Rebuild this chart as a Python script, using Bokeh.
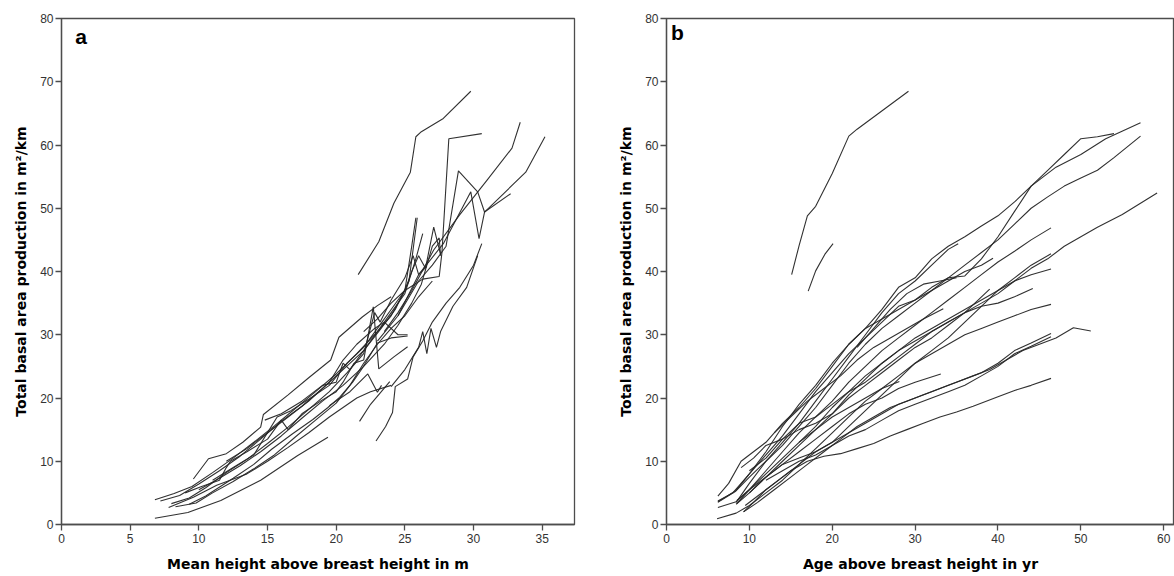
from bokeh.plotting import figure
from bokeh.layouts import row
from bokeh.models import Range1d, FixedTicker, Label, ColumnDataSource
from bokeh.embed import file_html
from bokeh.resources import INLINE

# ---------------- Panel a: mean height (m) vs total basal area production ----------------
a_lines = [
    [[21.6,39.5],[23.1,44.7],[24.2,50.8],[25.4,55.7],[25.8,61.3],[26.2,62.1],[27.8,64.2],[29.8,68.5]],
    [[22.0,30.5],[23.0,32.5],[24.0,35.0],[25.0,37.0],[26.3,38.8],[27.5,39.2],[27.7,43.0],[28.2,61.0],[30.6,61.8]],
    [[23.5,30.5],[24.5,33.5],[25.5,37.0],[27.1,43.4],[29.0,49.0],[31.0,54.5],[32.8,59.5],[33.4,63.6]],
    [[23.0,29.0],[24.5,33.0],[26.0,38.5],[27.0,41.0],[28.0,44.0],[28.9,55.9],[30.3,52.6],[30.8,49.4],[32.7,52.3]],
    [[24.5,33.0],[26.0,39.5],[27.8,44.4],[29.8,52.6],[30.4,45.2],[30.8,49.4],[33.8,55.7],[35.2,61.3]],
    [[22.9,13.2],[23.6,15.5],[24.1,17.7],[24.3,21.8],[25.2,23.0],[25.6,26.5],[26.3,29.0],[27.0,32.0],[28.0,35.0],[29.0,37.5],[30.0,41.0],[30.6,44.4]],
    [[24.0,21.8],[25.0,24.5],[26.0,28.0],[26.3,30.5],[26.6,27.0],[26.9,31.0],[27.3,28.0],[27.6,30.5],[28.5,34.5],[29.5,37.5],[30.3,42.5]],
    [[21.7,16.3],[22.5,19.0],[23.9,22.6]],
    [[19.5,18.8],[21.0,21.0],[22.3,23.8],[23.0,20.9],[23.3,22.0]],
    [[6.8,3.9],[8.2,4.9],[9.5,6.0],[11.0,8.2],[12.5,10.5],[14.0,13.0],[15.5,15.6],[17.0,18.3],[18.5,21.0],[20.0,23.8],[21.5,27.0],[23.0,30.5],[24.0,33.5],[25.0,36.5],[25.8,42.0],[26.3,46.0]],
    [[7.2,3.7],[8.6,4.6],[10.0,6.4],[11.5,8.5],[13.0,10.8],[14.5,13.5],[16.0,16.3],[17.5,18.7],[19.0,21.5],[20.5,24.5],[22.0,27.5],[23.2,30.8],[24.3,34.0],[25.3,38.5],[25.9,48.5]],
    [[9.6,7.2],[10.7,10.4],[12.0,11.2],[13.2,13.0],[14.5,15.4],[14.7,17.4],[16.5,20.5],[18.0,23.2],[19.6,26.0],[20.2,29.6],[21.9,32.8],[23.0,34.6],[24.0,36.0]],
    [[8.0,3.3],[9.3,4.2],[10.5,5.8],[12.0,8.2],[13.5,10.3],[15.0,12.8],[16.5,15.4],[18.0,18.2],[19.5,21.0],[20.8,24.0],[22.0,27.0],[22.8,33.5],[23.2,32.0],[24.0,35.5],[25.0,39.0],[25.6,42.5],[26.0,39.5],[26.6,40.8]],
    [[8.3,2.8],[9.8,3.4],[11.0,5.0],[12.5,6.8],[14.0,8.8],[15.5,11.0],[17.0,13.8],[18.5,16.5],[20.0,19.2],[21.0,22.0],[22.0,25.5],[23.0,28.5],[24.0,31.0],[25.0,33.0],[26.0,36.0],[27.0,38.5]],
    [[9.3,3.2],[10.5,4.5],[12.5,7.3],[14.0,9.5],[15.3,11.9],[16.8,14.3],[18.3,16.6],[19.4,18.5],[20.2,20.0],[21.2,22.5],[21.9,24.7],[23.0,28.7],[24.0,29.5],[25.2,29.8]],
    [[9.0,5.0],[10.2,6.0],[11.5,7.0],[12.0,9.0],[12.3,10.0],[13.5,11.5],[15.0,13.5],[16.0,16.5],[16.5,15.0],[17.5,17.5],[19.0,19.7],[20.0,21.0],[20.5,22.5],[21.3,25.5],[22.0,26.0],[22.7,34.4],[23.1,24.6],[24.2,26.5],[25.2,28.1]],
    [[10.0,5.5],[11.5,7.3],[13.0,9.3],[14.5,11.5],[16.0,14.0],[17.5,16.8],[19.0,19.5],[20.5,22.0],[22.0,25.0],[23.5,28.5],[24.5,31.5],[25.5,35.0],[26.2,38.0],[27.0,44.0],[27.5,45.3],[27.6,42.5]],
    [[14.8,16.5],[16.0,17.5],[17.5,19.5],[19.0,22.0],[20.0,22.5],[20.5,25.5],[21.0,24.5],[22.0,27.5],[23.0,30.5],[24.0,33.0],[25.0,37.0],[25.5,40.0],[26.0,42.5],[26.5,40.5],[27.1,47.0],[27.6,42.7]],
    [[6.8,1.0],[9.2,1.9],[11.6,3.8],[14.5,7.0],[17.2,10.9],[19.4,13.8]],
    [[7.8,2.7],[9.6,4.3],[11.3,6.2],[13.5,8.0],[15.0,10.0],[16.5,12.2],[18.0,14.5],[19.5,17.0],[20.5,18.5],[21.5,20.0],[22.5,21.0],[24.0,22.0]],
    [[11.0,7.0],[12.5,9.0],[14.0,11.0],[15.7,17.0],[16.7,18.0],[18.0,19.8],[19.5,22.0],[20.8,25.5],[22.0,28.0],[23.0,31.0],[24.0,34.0],[25.0,37.0],[25.5,44.0],[25.8,48.5]],
    [[12.0,10.0],[13.5,12.0],[15.0,14.5],[16.5,17.0],[18.0,19.5],[19.5,22.5],[20.5,26.0],[21.5,28.5],[22.8,31.0],[23.5,32.0],[24.5,30.0],[25.2,30.0]],
]

# ---------------- Panel b: age (yr) vs total basal area production ----------------
b_lines = [
    [[15.1,39.5],[16.0,44.1],[17.0,48.8],[18.0,50.3],[20.0,55.5],[22.0,61.4],[23.0,62.5],[29.2,68.5]],
    [[17.1,36.9],[18.0,40.1],[19.1,42.7],[20.1,44.4]],
    [[6.2,3.6],[8.4,5.4],[10.0,8.0],[12.0,11.0],[14.0,14.0],[16.0,17.5],[18.0,21.0],[20.0,24.0],[22.0,27.0],[24.0,29.5],[26.0,32.0],[28.0,34.5],[30.0,35.5],[32.0,37.5],[34.0,39.0],[36.0,39.3],[38.0,42.0],[40.0,45.5],[42.0,49.5],[44.0,53.5],[47.0,56.5],[50.0,58.5],[53.0,61.0],[57.2,63.5]],
    [[6.2,4.5],[7.5,6.5],[9.0,10.0],[10.5,11.5],[12.0,13.0],[14.0,16.0],[16.0,18.5],[18.0,21.5],[20.0,25.0],[22.0,28.5],[24.0,31.0],[26.0,34.0],[28.0,37.5],[30.0,39.0],[32.0,42.0],[34.0,44.0],[36.0,45.5],[38.0,47.2],[40.0,48.8],[42.0,51.0],[44.0,53.5],[46.0,56.0],[48.0,58.5],[50.0,61.0],[52.0,61.3],[54.0,61.8]],
    [[6.2,3.5],[8.3,5.2],[10.0,7.5],[12.0,10.0],[14.0,12.5],[16.0,15.5],[18.0,18.5],[20.0,22.0],[22.0,25.5],[24.0,28.5],[26.0,31.0],[28.0,33.0],[30.0,35.0],[32.0,37.0],[34.0,39.0],[36.0,41.0],[38.0,43.0],[40.0,45.0],[42.0,47.5],[44.0,50.0],[46.0,51.8],[48.0,53.5],[50.0,54.8],[52.0,56.0],[54.0,58.0],[57.2,61.4]],
    [[6.2,2.7],[8.4,3.6],[10.0,5.5],[12.0,8.0],[14.0,10.5],[16.0,13.0],[18.0,15.5],[20.0,18.5],[22.0,21.0],[24.0,23.5],[26.0,25.5],[28.0,27.5],[30.0,29.0],[32.0,30.5],[34.0,32.0],[36.0,33.5],[38.0,35.0],[40.0,36.5],[42.0,38.5],[44.0,40.5],[46.0,42.0],[48.0,44.0],[50.0,45.5],[52.0,47.0],[55.0,49.0],[59.2,52.4]],
    [[8.5,3.3],[10.0,5.5],[12.0,8.5],[14.0,11.5],[16.0,14.5],[18.0,17.0],[20.0,19.5],[22.0,22.5],[24.0,25.0],[26.0,27.5],[28.0,29.5],[30.0,31.5],[32.0,33.5],[34.0,35.5],[36.0,37.5],[38.0,39.5],[40.0,41.5],[42.0,43.2],[44.0,45.0],[46.4,46.9]],
    [[9.3,2.0],[10.5,3.5],[12.0,5.5],[14.0,7.5],[16.0,9.5],[18.0,11.5],[20.0,13.0],[22.0,15.5],[24.0,18.0],[26.0,20.5],[28.0,23.0],[30.0,25.5],[32.0,27.5],[34.0,29.5],[36.0,32.0],[38.0,34.5],[40.0,37.0],[42.0,39.0],[44.0,41.0],[46.4,42.8]],
    [[8.4,3.2],[10.0,5.0],[12.0,7.5],[14.0,10.0],[16.0,12.5],[18.0,15.0],[20.0,17.5],[22.0,20.5],[24.0,23.0],[26.0,25.5],[28.0,27.5],[30.0,29.5],[32.0,31.0],[34.0,32.5],[36.0,34.0],[38.0,35.5],[40.0,37.0],[42.0,38.5],[44.0,39.5],[46.4,40.4]],
    [[10.0,8.5],[12.0,10.5],[14.0,13.5],[16.0,16.0],[18.0,17.0],[20.0,19.0],[22.0,21.0],[24.0,22.5],[26.0,24.5],[28.0,26.5],[30.0,28.5],[32.0,30.5],[34.0,32.0],[36.0,33.5],[38.0,34.5],[40.0,35.0],[42.0,36.0],[44.2,37.3]],
    [[6.1,0.9],[8.4,1.8],[10.0,3.0],[12.0,5.0],[14.0,7.0],[16.0,9.5],[18.0,12.0],[20.0,14.5],[22.0,17.0],[24.0,19.5],[26.0,21.5],[28.0,23.5],[30.0,25.5],[32.0,27.0],[34.0,28.5],[36.0,30.0],[38.0,31.0],[40.0,32.0],[42.0,33.0],[44.0,34.0],[46.4,34.8]],
    [[8.5,3.8],[10.0,5.5],[12.0,7.5],[14.0,9.5],[16.0,10.5],[18.0,11.5],[20.0,13.0],[22.0,14.5],[24.0,16.0],[26.0,17.5],[28.0,19.0],[30.0,20.0],[32.0,21.0],[34.0,22.0],[36.0,23.0],[38.0,24.0],[40.0,25.5],[42.0,27.5],[44.0,28.7],[46.4,30.2]],
    [[12.0,7.0],[14.0,8.5],[16.0,10.0],[18.0,11.0],[20.0,12.5],[22.0,14.0],[24.0,15.0],[26.0,16.5],[28.0,18.0],[30.0,19.0],[32.0,20.0],[34.0,21.0],[36.0,22.0],[38.0,23.5],[40.0,25.0],[42.0,27.0],[44.0,28.2],[46.4,29.7]],
    [[9.5,3.0],[11.0,4.5],[13.0,6.5],[15.0,8.5],[17.0,10.0],[19.0,10.8],[21.0,11.2],[23.0,12.0],[25.0,12.8],[27.0,14.0],[29.0,15.0],[31.0,16.0],[33.0,17.0],[35.0,17.8],[37.0,18.7],[40.0,20.2],[42.0,21.2],[44.0,22.0],[46.4,23.1]],
    [[9.3,2.0],[11.0,3.5],[13.0,5.5],[15.0,7.5],[17.0,9.5],[19.0,11.5],[21.0,13.5],[23.0,15.5],[25.0,17.0],[27.0,18.5],[29.0,19.5],[31.0,20.5],[33.0,21.5],[35.0,22.5],[37.0,23.5],[39.0,24.5],[41.0,26.0],[43.0,27.5],[45.0,28.5],[47.0,29.5],[49.1,31.1],[51.2,30.6]],
    [[6.2,3.7],[8.0,5.0],[10.0,8.0],[12.0,11.5],[14.0,15.5],[16.0,19.0],[18.0,22.0],[20.0,25.5],[22.0,28.5],[24.0,31.0],[26.0,32.5],[28.0,34.0],[30.0,35.5],[32.0,37.0],[34.0,38.5],[36.0,40.0],[38.0,41.0],[39.4,42.1]],
    [[8.4,3.5],[10.0,6.5],[12.0,10.0],[14.0,13.0],[16.0,16.0],[18.0,19.5],[20.0,23.0],[22.0,26.5],[24.0,30.0],[26.0,33.5],[28.0,36.5],[30.0,38.5],[32.0,41.0],[34.0,43.5],[35.2,44.4]],
    [[13.0,14.5],[15.0,17.0],[17.0,19.5],[19.0,21.5],[21.0,23.5],[23.0,26.0],[25.0,28.0],[27.0,29.5],[29.0,31.0],[31.0,32.5],[33.4,34.1]],
    [[10.0,5.0],[12.0,7.5],[14.0,9.5],[16.0,11.5],[18.0,13.5],[20.0,15.5],[22.0,17.5],[24.0,19.0],[26.0,20.0],[28.0,21.5],[30.0,22.5],[33.1,23.8]],
    [[16.0,13.0],[18.0,15.0],[20.0,17.0],[22.0,18.5],[24.0,20.0],[26.0,21.5],[28.1,22.6]],
    [[23.0,28.0],[25.0,31.0],[27.0,34.0],[29.0,36.5],[31.0,38.0],[33.0,38.5],[35.0,39.0]],
    [[9.0,9.0],[10.5,10.5],[12.0,12.5],[14.0,13.5],[16.0,15.0],[18.0,16.0],[20.0,17.5],[22.0,20.0],[24.0,22.0],[26.0,24.0],[28.0,26.0],[30.0,28.0],[32.0,29.5],[34.0,31.5],[36.0,33.5],[39.0,37.2]],
]

x_ticks_a = [0, 5, 10, 15, 20, 25, 30, 35]
x_ticks_b = [0, 10, 20, 30, 40, 50, 60]
y_ticks = [0, 10, 20, 30, 40, 50, 60, 70, 80]

x_label_a = "Mean height above breast height in m"
x_label_b = "Age above breast height in yr"
y_label = "Total basal area production in m²/km"

LINE = "#262626"
AXIS = "#4d4d4d"


def make_panel(lines, xmax, ticks, xlabel, tag, tag_x, tag_y, border_left, frame_w, border_right):
    p = figure(width=border_left + frame_w + border_right, height=576,
               x_range=Range1d(0, xmax), y_range=Range1d(0, 80),
               output_backend="svg", toolbar_location=None,
               min_border_left=border_left, min_border_right=border_right,
               min_border_top=18, min_border_bottom=52)
    p.frame_width = frame_w
    p.frame_height = 506
    p.grid.visible = False
    p.background_fill_color = "white"
    p.border_fill_color = "white"
    p.outline_line_color = AXIS
    p.outline_line_width = 1.3

    src = ColumnDataSource(dict(xs=[[pt[0] for pt in ln] for ln in lines],
                                ys=[[pt[1] for pt in ln] for ln in lines]))
    p.multi_line("xs", "ys", source=src, line_color=LINE, line_width=1.1, line_alpha=0.95)

    for ax in (p.xaxis[0], p.yaxis[0]):
        ax.axis_line_color = AXIS
        ax.axis_line_width = 1.3
        ax.major_tick_line_color = AXIS
        ax.major_tick_line_width = 1.3
        ax.major_tick_out = 6
        ax.major_tick_in = 0
        ax.minor_tick_line_color = None
        ax.major_label_text_font = "Liberation Sans"
        ax.major_label_text_font_size = "12px"
        ax.major_label_text_color = "#333333"
        ax.axis_label_text_font = "DejaVu Sans"
        ax.axis_label_text_font_style = "bold"
        ax.axis_label_text_font_size = "14px"
        ax.axis_label_text_color = "#000000"
    p.xaxis[0].ticker = FixedTicker(ticks=ticks)
    p.yaxis[0].ticker = FixedTicker(ticks=y_ticks)
    p.xaxis[0].axis_label = xlabel
    p.yaxis[0].axis_label = y_label
    p.xaxis[0].major_label_standoff = 3
    p.yaxis[0].major_label_standoff = 2
    p.xaxis[0].axis_label_standoff = 10
    p.yaxis[0].axis_label_standoff = 8

    p.add_layout(Label(x=tag_x, y=tag_y, text=tag, text_font="Liberation Sans",
                       text_font_style="bold", text_font_size="21px", text_color="black"))
    return p


pa = make_panel(a_lines, 37.35, x_ticks_a, x_label_a, "a", 1.0, 75.3, 61, 513, 16)
pb = make_panel(b_lines, 61.3, x_ticks_b, x_label_b, "b", 0.55, 76.0, 76, 508, 0)

layout = row(pa, pb, spacing=0)
open("out.html", "w").write(file_html(layout, INLINE))
